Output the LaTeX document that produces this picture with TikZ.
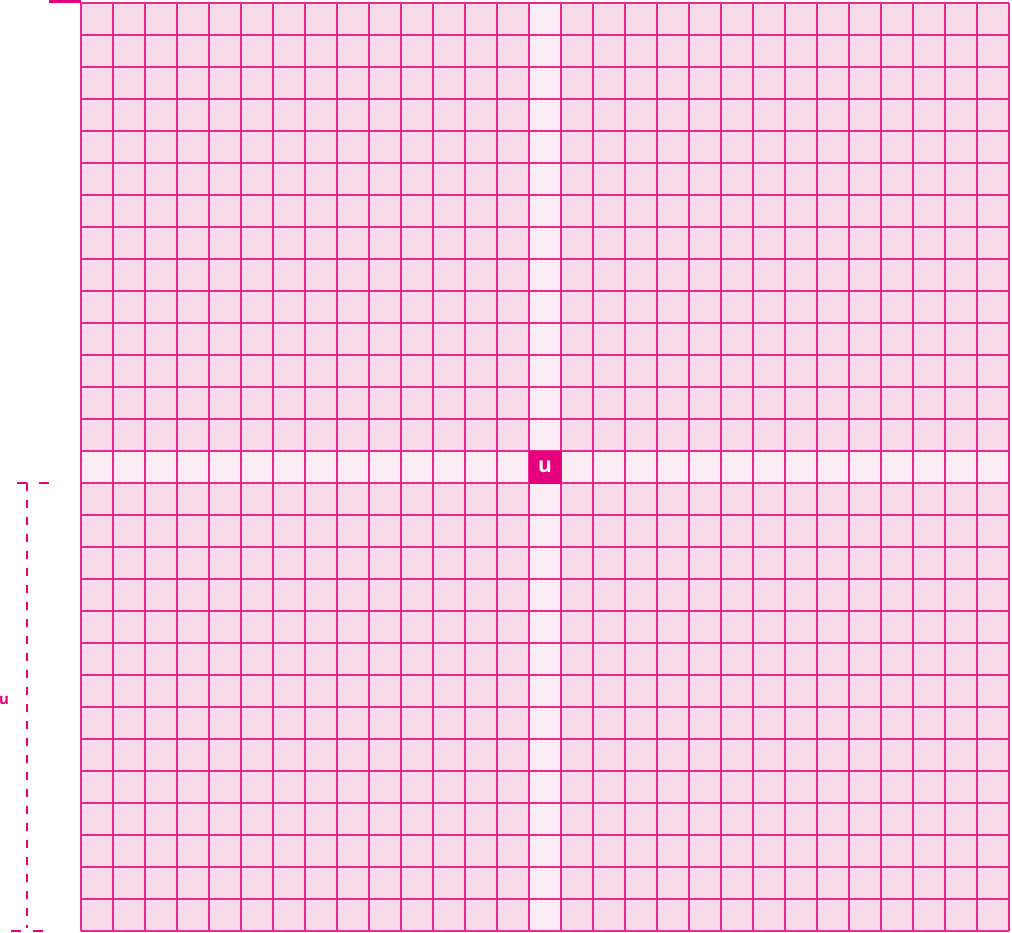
\documentclass[tikz,border=0pt]{standalone}
\usepackage{fontspec}
\setsansfont{Open Sans}
\usetikzlibrary{positioning}
\definecolor{mag}{HTML}{E6007E}
\definecolor{cellpink}{HTML}{F8DAE8}
\definecolor{lanepink}{HTML}{FCEDF4}
\begin{document}
\begin{tikzpicture}[x=1pt,y=-1pt,every node/.style={font=\sffamily\bfseries},gridline/.style={draw=mag!85,line width=1.1pt},centerbox/.style={fill=mag,draw=mag,text=white,minimum size=32pt,inner sep=0pt,font=\sffamily\bfseries\fontsize{21}{21}\selectfont},dimline/.style={draw=mag,line width=1.3pt,dash pattern=on 8pt off 9pt},dimtick/.style={draw=mag,line width=1.3pt,dash pattern=on 10pt off 12pt}]
\useasboundingbox (0,0) rectangle (1012,932);
\fill[mag] (49,0) rectangle (81,3.3);
\fill[cellpink] (81,3) rectangle (1009,931);\fill[lanepink] (81,451) rectangle (1009,483);\fill[lanepink] (529,3) rectangle (561,931);
\foreach \k in {0,...,29}{\draw[gridline] (81+32*\k,3)--(81+32*\k,931);\draw[gridline] (81,3+32*\k)--(1009,3+32*\k);}
\node[centerbox] (u) at (545,467) {u};
\coordinate (dimtop) at (27,483);\coordinate (dimbot) at (27,928);
\draw[dimtick] (17,483)--(49,483);\draw[dimline] (dimtop)--(dimbot);\draw[dimtick] (11,931)--(43,931);
\node[text=mag,font=\sffamily\bfseries\fontsize{15}{15}\selectfont,inner sep=0pt] (ulabel) at (4,700) {u};
\end{tikzpicture}
\end{document}
